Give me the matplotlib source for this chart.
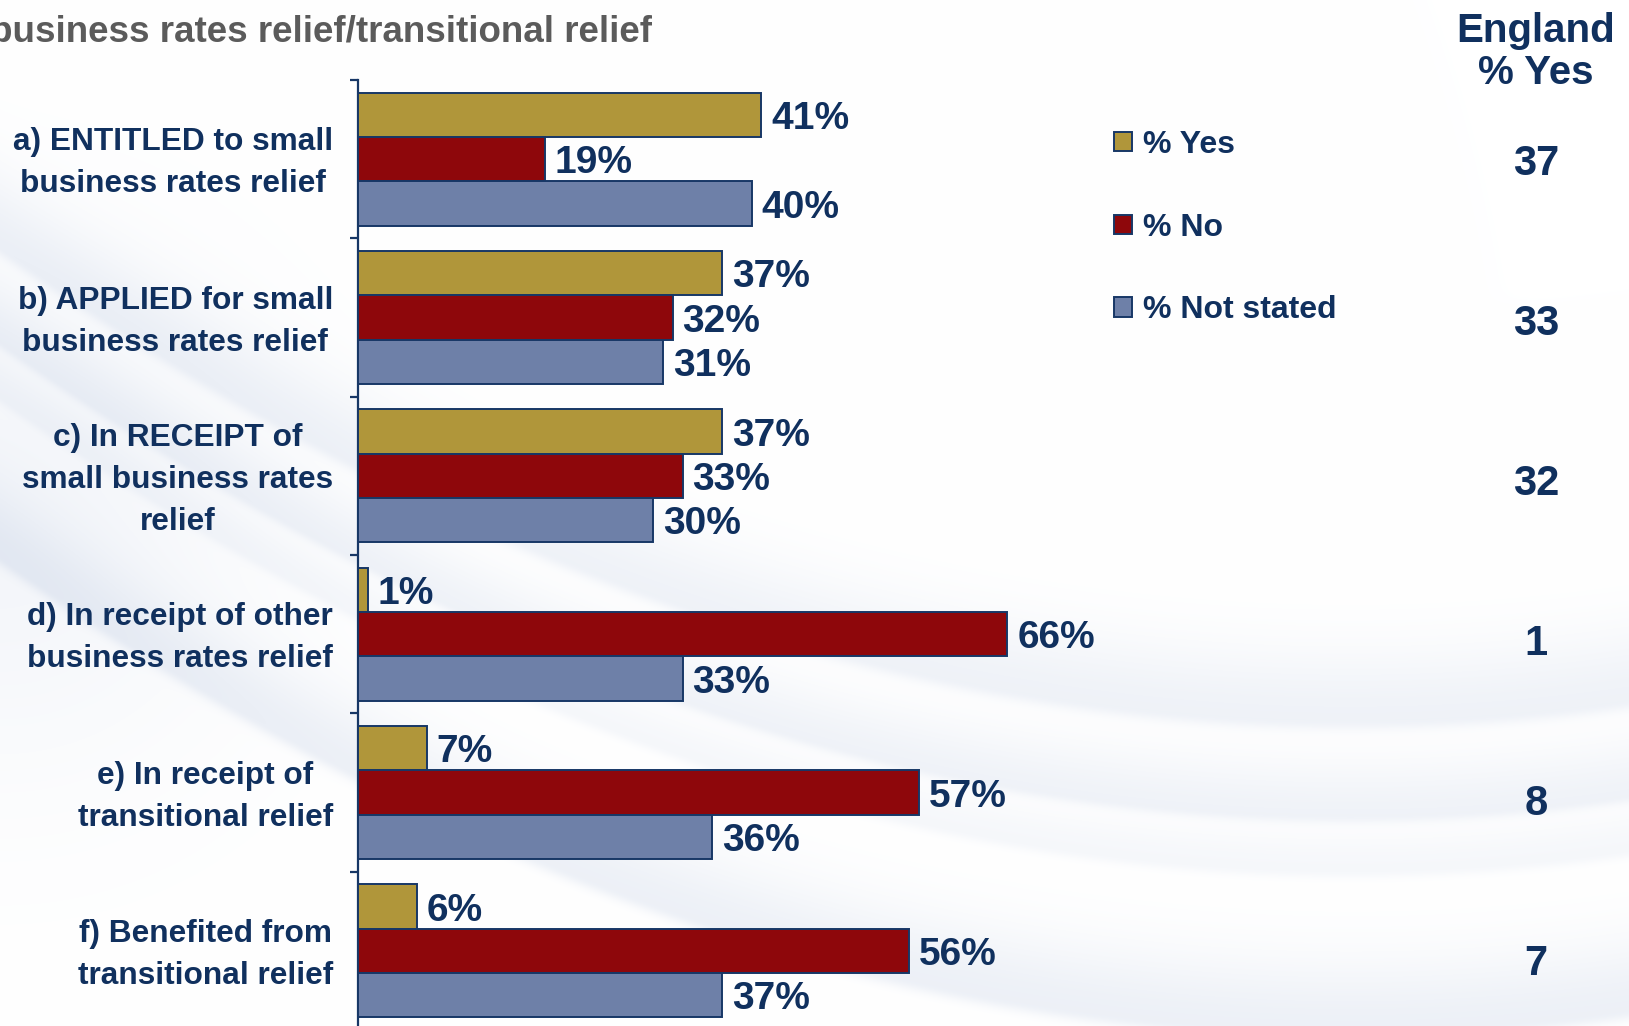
import numpy as np
import matplotlib
matplotlib.use("Agg")
import matplotlib.pyplot as plt
from matplotlib.patches import Patch

# ---- data -------------------------------------------------------------
categories = [
    "a) ENTITLED to small\nbusiness rates relief",
    "b) APPLIED for small\nbusiness rates relief",
    "c) In RECEIPT of\nsmall business rates\nrelief",
    "d) In receipt of other\nbusiness rates relief",
    "e) In receipt of\ntransitional relief",
    "f) Benefited from\ntransitional relief",
]
series_names = ["% Yes", "% No", "% Not stated"]
pct_yes = [41, 37, 37, 1, 7, 6]
pct_no = [19, 32, 33, 66, 57, 56]
pct_not_stated = [40, 31, 30, 33, 36, 37]
england_yes = [37, 33, 32, 1, 8, 7]

title_text = "business rates relief/transitional relief"
england_header = "England\n% Yes"

# ---- style ------------------------------------------------------------
NAVY = "#10305e"
EDGE = "#173766"
COLORS = ["#b0963a", "#8e070b", "#6e80a8"]
FONT = ["Liberation Sans", "DejaVu Sans"]

W, H, DPI = 1629, 1026, 100
fig = plt.figure(figsize=(W / DPI, H / DPI), dpi=DPI)

# ---- soft swoosh background ---------------------------------------------
bg = fig.add_axes([0, 0, 1, 1], zorder=-10)
bg.set_axis_off()
yy, xx = np.mgrid[0:H, 0:W].astype(float)


def swoosh(ymax, amp, up=60.0, down=8.0, k=2.6e-4, xm=1350.0):
    curve = ymax - k * (xx - xm) ** 2
    d = yy - curve
    w = np.where(d < 0, up, down)
    return amp * np.exp(-(d / w) ** 2)


shade = (swoosh(720, 0.30, 70, 10)
         + swoosh(815, 0.28, 55, 8)
         + swoosh(870, 0.18, 40, 8)
         + swoosh(1030, 0.35, 70, 10)
         + 0.22 * np.exp(-(((xx - 0) / 260) ** 2 + ((yy - 520) / 260) ** 2)))
shade = np.clip(shade, 0, 1)
base = np.array([0.80, 0.84, 0.91])
img = 1 - shade[..., None] * (1 - base)
bg.imshow(img, extent=[0, W, H, 0], aspect="auto", interpolation="bilinear")
bg.set_xlim(0, W)
bg.set_ylim(H, 0)

# ---- bar axes ---------------------------------------------------------
ax_left, ax_top, ax_bottom, ax_right = 358, 80, 1030, 1342
ax = fig.add_axes([ax_left / W, (H - ax_bottom) / H,
                   (ax_right - ax_left) / W, (ax_bottom - ax_top) / H])
ax.patch.set_alpha(0)

n = len(categories)
y = np.arange(n)
bar_h = 0.28
values = [pct_yes, pct_no, pct_not_stated]
for j, (vals, color, name) in enumerate(zip(values, COLORS, series_names)):
    pos = y + (j - 1) * bar_h
    ax.barh(pos, vals, height=bar_h, color=color, edgecolor=EDGE,
            linewidth=1.4, label=name, zorder=3)
    for p, v in zip(pos, vals):
        ax.annotate(f"{v}%", xy=(v, p), xytext=(7, -3),
                    textcoords="offset points", ha="left", va="center",
                    fontsize=28, fontweight="bold", color=NAVY, family=FONT)

ax.set_xlim(0, 100)
ax.set_ylim(n - 0.5, -0.5)
for side in ("top", "right", "bottom"):
    ax.spines[side].set_visible(False)
ax.spines["left"].set_color(EDGE)
ax.spines["left"].set_linewidth(1.6)
ax.set_xticks([])

# category boundaries as ticks; category names as centred blocks
ax.set_yticks(np.arange(-0.5, n, 1.0))
ax.set_yticklabels([])
ax.tick_params(axis="y", which="major", length=6, width=1.6, color=EDGE,
               direction="out")
for yi, cat in zip(y, categories):
    ax.annotate(cat, xy=(0, yi), xycoords=ax.get_yaxis_transform(),
                xytext=(-18, -3), textcoords="offset points",
                ha="right", va="center", multialignment="center",
                linespacing=1.53, fontsize=22.8, fontweight="bold",
                color=NAVY, family=FONT)

# ---- legend ---------------------------------------------------------
handles = [Patch(facecolor=c, edgecolor=EDGE, linewidth=1.4) for c in COLORS]
leg = fig.legend(handles, series_names, loc="upper left",
                 bbox_to_anchor=(1098 / W, 1 - 114 / H), frameon=False,
                 borderpad=0, handlelength=0.55, handleheight=0.55,
                 handletextpad=0.35, labelspacing=1.65,
                 prop={"family": FONT, "weight": "bold", "size": 23})
for t in leg.get_texts():
    t.set_color(NAVY)

# ---- England column -------------------------------------------------
fig.text(1536 / W, 1 - 52 / H, england_header, ha="center", va="center",
         fontsize=29, fontweight="bold", color=NAVY, family=FONT,
         linespacing=1.12)
eng_top, eng_bottom = 79, 1040
ax_eng = fig.add_axes([1436 / W, (H - eng_bottom) / H, 200 / W,
                       (eng_bottom - eng_top) / H])
ax_eng.set_axis_off()
ax_eng.set_xlim(0, 1)
ax_eng.set_ylim(n - 0.5, -0.5)
for yi, v in zip(y, england_yes):
    ax_eng.text(0.5, yi, f"{v}", ha="center", va="center_baseline",
                fontsize=30, fontweight="bold", color=NAVY, family=FONT)

# ---- title (runs off the left edge) ---------------------------------
fig.text(652 / W, 1 - 32 / H, title_text, ha="right", va="center",
         fontsize=26.5, fontweight="bold", color="#5b5b5b", family=FONT)

fig.savefig("out.png", dpi=DPI)
